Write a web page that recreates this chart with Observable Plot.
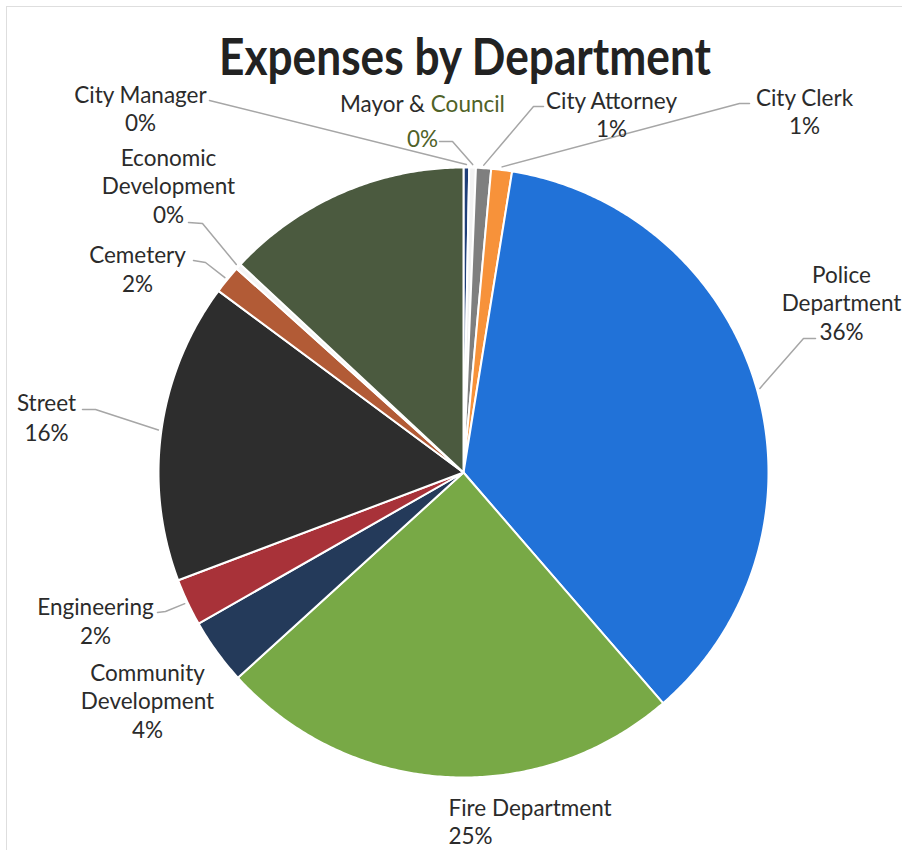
<!DOCTYPE html>
<html><head><meta charset="utf-8">
<script src="https://cdn.jsdelivr.net/npm/d3@7"></script>
<script src="https://cdn.jsdelivr.net/npm/@observablehq/plot@0.6"></script>
<style>
  body { margin: 0; background: #fff; }
  #chart svg { display: block; }
</style>
</head><body><div id="chart"></div>
<script>
// ---------------- data ----------------
const title = "Expenses by Department";
const departments = ["City Manager", "Mayor & Council", "City Attorney", "City Clerk",
  "Police Department", "Fire Department", "Community Development", "Engineering",
  "Street", "Cemetery", "Economic Development", "Unlabeled"];
const shares = [0.3, 0.35, 0.8, 1.1, 36.1, 24.6, 3.5, 2.5, 15.9, 1.5, 0.3, 13.05];
const percentLabels = ["0%", "0%", "1%", "1%", "36%", "25%", "4%", "2%", "16%", "2%", "0%", ""];
const labelLines = ["City Manager", "Mayor & Council", "City Attorney", "City Clerk",
  "Police\nDepartment", "Fire Department", "Community\nDevelopment", "Engineering",
  "Street", "Cemetery", "Economic\nDevelopment", ""];
const colors = ["#1f3f78", "#f2f2f2", "#7f7f7f", "#f7923a", "#2172d8", "#78a946",
  "#243a5a", "#a83239", "#2d2d2d", "#b25b36", "#f5f5f5", "#4b5a3f"];

// ---------------- layout (not data) ----------------
const W = 907, H = 855;
const pie = {cx: 463, cy: 472, r: 305};
const textColor = "#2b2b2b";
const labelLayout = {
  "City Manager":        {x: 140, y: 102, gap: 28, anchor: "middle", line: [[209, 100]]},
  "Mayor & Council":     {x: 422, y: 111, gap: 35, anchor: "middle", line: [[439, 141], [452, 141]], pctColor: "#4f6228"},
  "City Attorney":       {x: 611, y: 108, gap: 28, anchor: "middle", line: [[543, 106], [533, 106]]},
  "City Clerk":          {x: 804, y: 105, gap: 28, anchor: "middle", line: [[749, 103], [739, 103]]},
  "Police Department":   {x: 841, y: 282, gap: 28.5, anchor: "middle", line: [[815, 338], [803, 338]]},
  "Fire Department":     {x: 448, y: 815, gap: 28, anchor: "start"},
  "Community Development": {x: 147, y: 680, gap: 28.5, anchor: "middle"},
  "Engineering":         {x: 95, y: 614, gap: 29, anchor: "middle", line: [[157, 612], [165, 611]]},
  "Street":              {x: 46, y: 410, gap: 30, anchor: "middle", line: [[82, 409], [95, 409]]},
  "Cemetery":            {x: 137, y: 262, gap: 29, anchor: "middle", line: [[193, 260], [205, 262]]},
  "Economic Development": {x: 168, y: 165, gap: 28.5, anchor: "middle", line: [[188, 222], [202, 223]]}
};

// ---------------- derived geometry ----------------
const total = d3.sum(shares);
let acc = 0;
const slices = departments.map((name, i) => {
  const a0 = acc / total * 2 * Math.PI; acc += shares[i];
  const a1 = acc / total * 2 * Math.PI;
  return {name, i, a0, a1, mid: (a0 + a1) / 2, color: colors[i]};
});
const polar = (a, k = 1) => [pie.cx + pie.r * k * Math.sin(a), pie.cy - pie.r * k * Math.cos(a)];

const slicePts = slices.flatMap(s => {
  const n = Math.max(2, Math.ceil((s.a1 - s.a0) / (Math.PI / 360)));
  const pts = [{name: s.name, color: s.color, p: [pie.cx, pie.cy]}];
  for (let j = 0; j <= n; j++) pts.push({name: s.name, color: s.color, p: polar(s.a0 + (s.a1 - s.a0) * j / n)});
  return pts;
});

const leaderPts = slices.flatMap(s => {
  const L = labelLayout[s.name];
  if (!L || !L.line) return [];
  return [...L.line.map(p => ({name: s.name, p})), {name: s.name, p: polar(s.mid, 1.01)}];
});

const textRows = slices.flatMap(s => {
  const L = labelLayout[s.name];
  if (!L) return [];
  const lines = labelLines[s.i].split("\n").map(t => ({t, c: textColor}));
  lines.push({t: percentLabels[s.i], c: L.pctColor || textColor});
  return lines.map((ln, k) => ({text: ln.t, color: ln.c, anchor: L.anchor, x: L.x, y: L.y + k * L.gap}));
});

const font = "Lato, 'Open Sans', sans-serif";

const svg = Plot.plot({
  width: W, height: H,
  margin: 0,
  x: {domain: [0, W], range: [0, W], axis: null},
  y: {domain: [0, H], range: [0, H], axis: null},
  color: {type: "identity"},
  style: {fontFamily: font, background: "#fff"},
  marks: [
    Plot.frame({anchor: "top", inset: 6, stroke: "#dedede"}),
    Plot.frame({anchor: "left", inset: 6, stroke: "#dedede"}),
    Plot.line(slicePts, {x: d => d.p[0], y: d => d.p[1], z: "name", fill: "color",
      stroke: "#ffffff", strokeWidth: 2, curve: "linear-closed"}),
    Plot.line(leaderPts, {x: d => d.p[0], y: d => d.p[1], z: "name",
      stroke: "#a6a6a6", strokeWidth: 1.5}),
    Plot.text(textRows.filter(d => d.anchor === "middle"), {x: "x", y: "y", text: "text", fill: "color",
      textAnchor: "middle", lineAnchor: "bottom", fontSize: 22.5}),
    Plot.text(textRows.filter(d => d.anchor === "start"), {x: "x", y: "y", text: "text", fill: "color",
      textAnchor: "start", lineAnchor: "bottom", fontSize: 22.5}),
    Plot.text([title], {frameAnchor: "top", dx: 11, dy: 74, text: d => d, lineAnchor: "bottom",
      fontSize: 52, fontWeight: "bold", fill: "#222222"})
  ]
});

// cosmetic adjustments: title width and two-colour "Mayor & Council"
d3.select(svg).selectAll("text").each(function () {
  const el = d3.select(this);
  const t = this.textContent;
  if (t === title) {
    el.attr("textLength", 492).attr("lengthAdjust", "spacingAndGlyphs");
  } else if (t === "Mayor & Council") {
    el.text(null);
    el.append("tspan").text("Mayor & ");
    el.append("tspan").attr("fill", "#4f6228").text("Council");
  }
});

document.getElementById("chart").appendChild(svg);
</script>
</body></html>
